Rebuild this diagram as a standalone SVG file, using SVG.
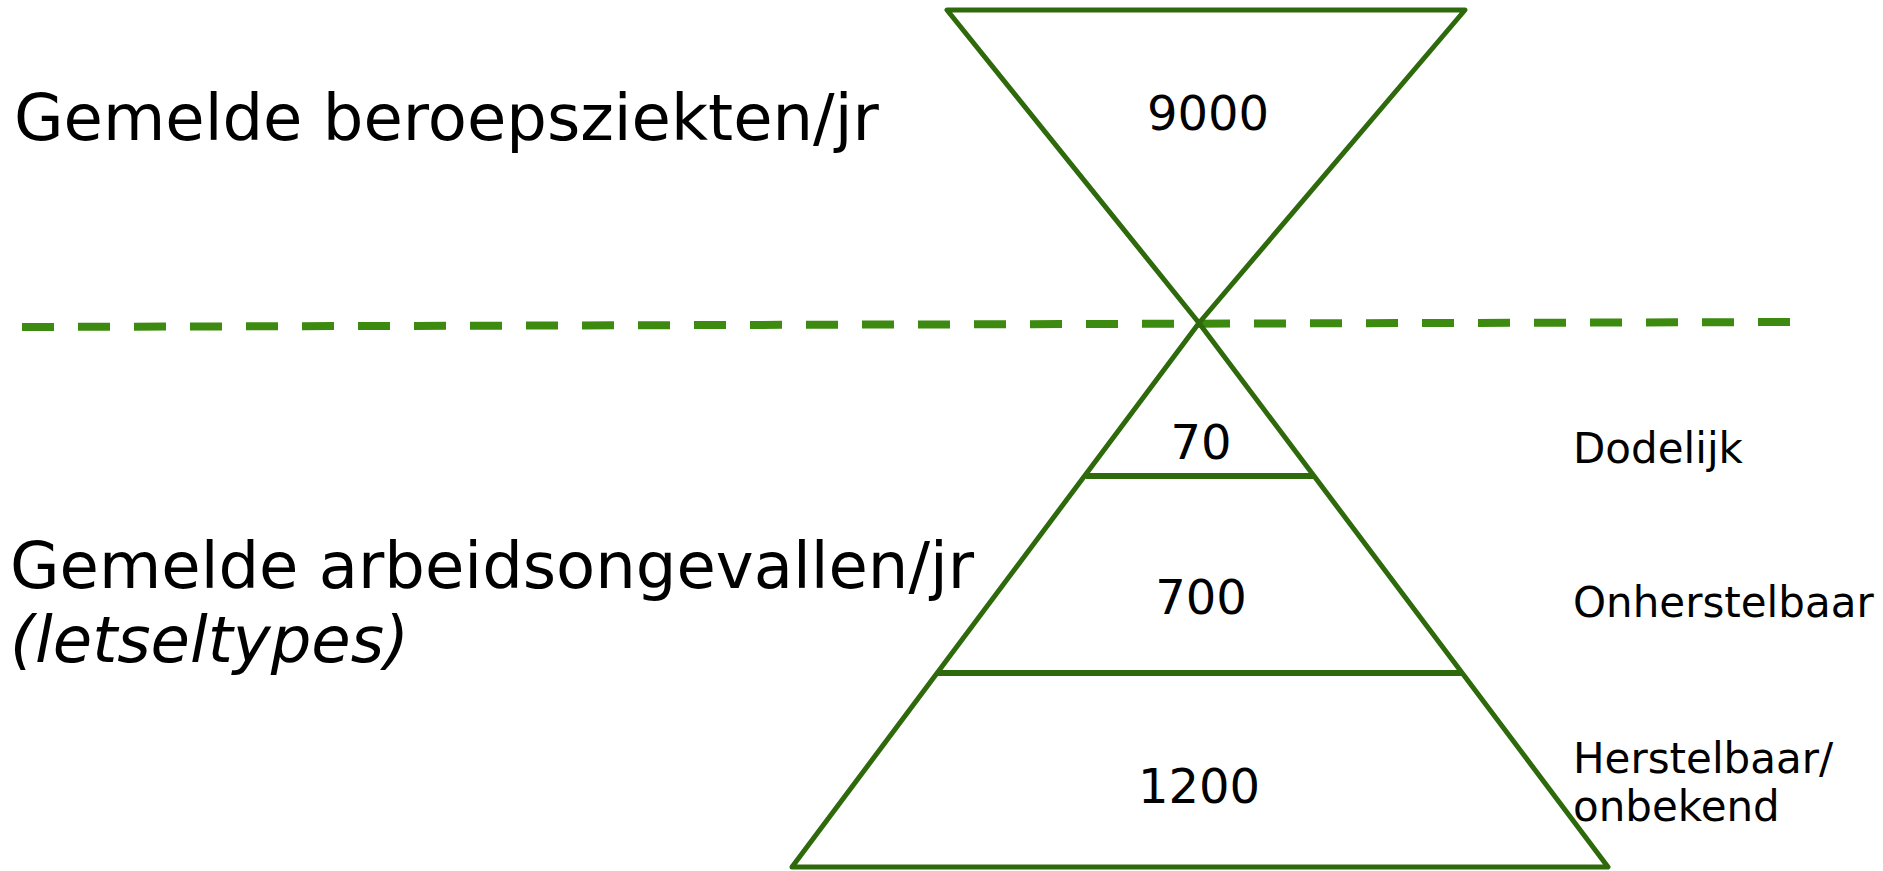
<svg xmlns="http://www.w3.org/2000/svg" width="1883" height="871" viewBox="0 0 1883 871">
<style>
.shape{fill:none;stroke:#2e6a0c;stroke-width:5;stroke-linejoin:round;stroke-linecap:round}
.div{fill:none;stroke:#2e6a0c;stroke-width:6}
.dash{fill:none;stroke:#3c8a10;stroke-width:8;stroke-dasharray:32 24}
text{font-family:"DejaVu Sans","Noto Sans",sans-serif;fill:#000}
.big{font-size:64px}
.num{font-size:48px;text-anchor:middle}
.lbl{font-size:42px}
</style>
<rect width="1883" height="871" fill="#fff"/>
<g id="connectors">
<line class="dash" x1="22" y1="327" x2="1790" y2="322"/>
</g>
<g id="top-triangle">
<polygon class="shape" points="947,10 1465,10 1199,323"/>
<text class="num" x="1208" y="130">9000</text>
</g>
<g id="bottom-triangle">
<polygon class="shape" points="1199,323 1608,867 792,867"/>
<line class="div" x1="1086" y1="476" x2="1313" y2="476"/>
<line class="div" x1="938" y1="673" x2="1462" y2="673"/>
<text class="num" x="1201" y="459">70</text>
<text class="num" x="1201" y="614">700</text>
<text class="num" x="1199" y="803">1200</text>
</g>
<g id="title-top">
<text class="big" x="14" y="140">Gemelde beroepsziekten/jr</text>
</g>
<g id="title-bottom">
<text class="big" x="10" y="588">Gemelde arbeidsongevallen/jr</text>
<text class="big" x="10" y="662" font-style="italic">(letseltypes)</text>
</g>
<g id="labels">
<text class="lbl" x="1573" y="463">Dodelijk</text>
<text class="lbl" x="1573" y="617">Onherstelbaar</text>
<text class="lbl" x="1573" y="773">Herstelbaar/</text>
<text class="lbl" x="1573" y="821">onbekend</text>
</g>
</svg>
